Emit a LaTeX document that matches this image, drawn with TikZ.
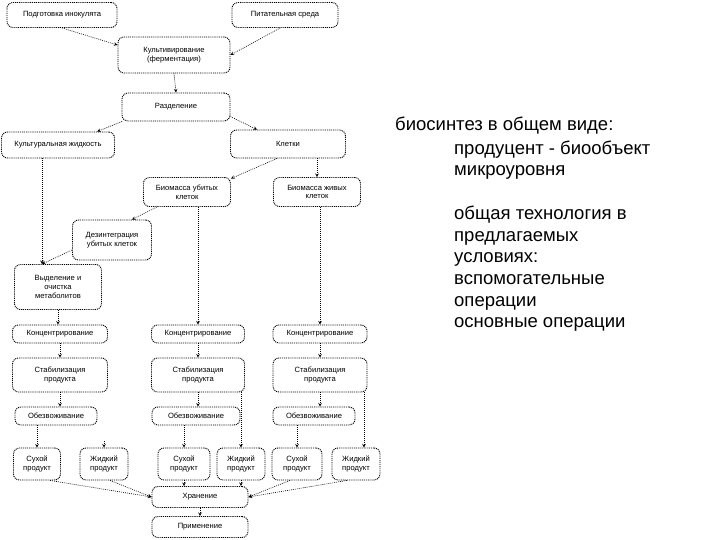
\documentclass[tikz,border=0pt]{standalone}
\usepackage{fontspec}
\setmainfont{Liberation Sans}
\usepackage{tikz}
\usetikzlibrary{shapes,arrows,positioning}

\tikzset{
    stage/.style={
        draw,
        line width=0.9pt,
        dash pattern=on 1pt off 0.9pt,
        rounded corners=6pt,
        align=center,
        inner sep=1pt,
        font=\fontsize{7.6}{8.6}\selectfont
    },
    flow/.style={
        ->,
        >=stealth,
        line width=0.6pt,
        dash pattern=on 0.9pt off 1.1pt
    }
}

\begin{document}
\begin{tikzpicture}[x=1pt,y=-1pt]
                \useasboundingbox (0,0) rectangle (720,540);

                \node[stage, minimum width=110, minimum height=25] (prep) at (62,15) {Подготовка инокулята};
                \node[stage, minimum width=106, minimum height=25] (medium) at (285,15) {Питательная среда};
                \node[stage, minimum width=112, minimum height=36] (cult) at (174,55) {Культивирование\\(ферментация)};
                \node[stage, minimum width=108, minimum height=28] (sep) at (176,107) {Разделение};
                \node[stage, minimum width=113, minimum height=26] (liquid) at (58,145) {Культуральная жидкость};
                \node[stage, minimum width=115, minimum height=28] (cells) at (288,144) {Клетки};
                \node[stage, minimum width=87, minimum height=29] (deadbio) at (187,192) {Биомасса убитых\\клеток};
                \node[stage, minimum width=87, minimum height=29] (livebio) at (317,192) {Биомасса живых\\клеток};
                \node[stage, minimum width=79, minimum height=40] (disint) at (112,240) {Дезинтеграция\\убитых клеток};
                \node[stage, minimum width=87, minimum height=45] (isol) at (58,287) {Выделение и\\очистка\\метаболитов};

                \node[stage, minimum width=95, minimum height=18] (conc1) at (60,334) {Концентрирование};
                \node[stage, minimum width=93, minimum height=18] (conc2) at (198,334) {Концентрирование};
                \node[stage, minimum width=94, minimum height=18] (conc3) at (320,334) {Концентрирование};
                \node[stage, minimum width=95, minimum height=34] (stab1) at (60,375) {Стабилизация\\продукта};
                \node[stage, minimum width=93, minimum height=34] (stab2) at (198,375) {Стабилизация\\продукта};
                \node[stage, minimum width=94, minimum height=34] (stab3) at (320,375) {Стабилизация\\продукта};
                \node[stage, minimum width=82, minimum height=18] (dehyd1) at (56,416) {Обезвоживание};
                \node[stage, minimum width=88, minimum height=18] (dehyd2) at (196,416) {Обезвоживание};
                \node[stage, minimum width=82, minimum height=18] (dehyd3) at (314,416) {Обезвоживание};

                \node[stage, minimum width=47, minimum height=32] (dry1) at (37,464) {Сухой\\продукт};
                \node[stage, minimum width=48, minimum height=32] (wet1) at (104,464) {Жидкий\\продукт};
                \node[stage, minimum width=52, minimum height=32] (dry2) at (184,464) {Сухой\\продукт};
                \node[stage, minimum width=48, minimum height=32] (wet2) at (241,464) {Жидкий\\продукт};
                \node[stage, minimum width=50, minimum height=32] (dry3) at (297,464) {Сухой\\продукт};
                \node[stage, minimum width=48, minimum height=32] (wet3) at (356,464) {Жидкий\\продукт};
                \node[stage, minimum width=96, minimum height=21] (store) at (200,497) {Хранение};
                \node[stage, minimum width=96, minimum height=21] (apply) at (200,527) {Применение};
                \coordinate (wetstub) at (104,441);

                \draw[flow] (prep.south) -- (cult.170);
                \draw[flow] (medium.250) -- (cult.east);
                \draw[flow] (cult.south) -- (sep.north);
                \draw[flow] (sep.195) -- (liquid.19);
                \draw[flow] (sep.-10) -- (cells.155);
                \draw[flow] ([xshift=-11pt]cells.south) -- (deadbio.17);
                \draw[flow] (livebio.north |- cells.south) -- (livebio.north);
                \draw[flow] ([xshift=-30pt]deadbio.south) -- ([xshift=20pt]disint.north);
                \draw[flow] (conc2.north |- deadbio.south) -- (conc2.north);
                \draw[flow] (conc3.north |- livebio.south) -- (conc3.north);
                \draw[flow] ([xshift=-16pt]liquid.south) -- ([xshift=-16pt]isol.north);
                \draw[flow] (disint.194) -- ([xshift=-16pt]isol.north);
                \draw[flow] (isol.south) -- (isol.south |- conc1.north);

                \foreach \col in {1,2,3} {
                    \draw[flow] (conc\col.south) -- (conc\col.south |- stab\col.north);
                    \draw[flow] (stab\col.south) -- (stab\col.south |- dehyd\col.north);
                    \draw[flow] (dry\col.north |- dehyd\col.south) -- (dry\col.north);
                }
                \draw[flow] (wetstub) -- (wet1.north);
                \draw[flow] (wet2.north |- stab2.south) -- (wet2.north);
                \draw[flow] ([xshift=8pt]wet3.north |- stab3.south) -- ([xshift=8pt]wet3.north);

                \draw[flow] ([xshift=13pt]dry1.south) -- (store.west);
                \draw[flow] ([xshift=6pt]wet1.south) -- (store.west);
                \draw[flow] (dry2.south) -- (dry2.south |- store.north);
                \draw[flow] (wet2.south) -- (wet2.south |- store.north);
                \draw[flow] ([xshift=-7pt]dry3.south) -- (store.east);
                \draw[flow] ([xshift=-9pt]wet3.south) -- (store.east);
                \draw[flow] (store.south) -- (apply.north);

                \node[anchor=base west, inner sep=0, font=\fontsize{18.5}{21.7}\selectfont] (headline) at (395,131) {биосинтез в общем виде:};
                \node[anchor=north west, inner sep=0, align=left, font=\fontsize{18.5}{21.7}\selectfont] (notes) at (454,140.5) {продуцент - биообъект\\микроуровня\\[21.7pt]общая технология в\\предлагаемых\\условиях:\\вспомогательные\\операции\\основные операции};

            \end{tikzpicture}
\end{document}
